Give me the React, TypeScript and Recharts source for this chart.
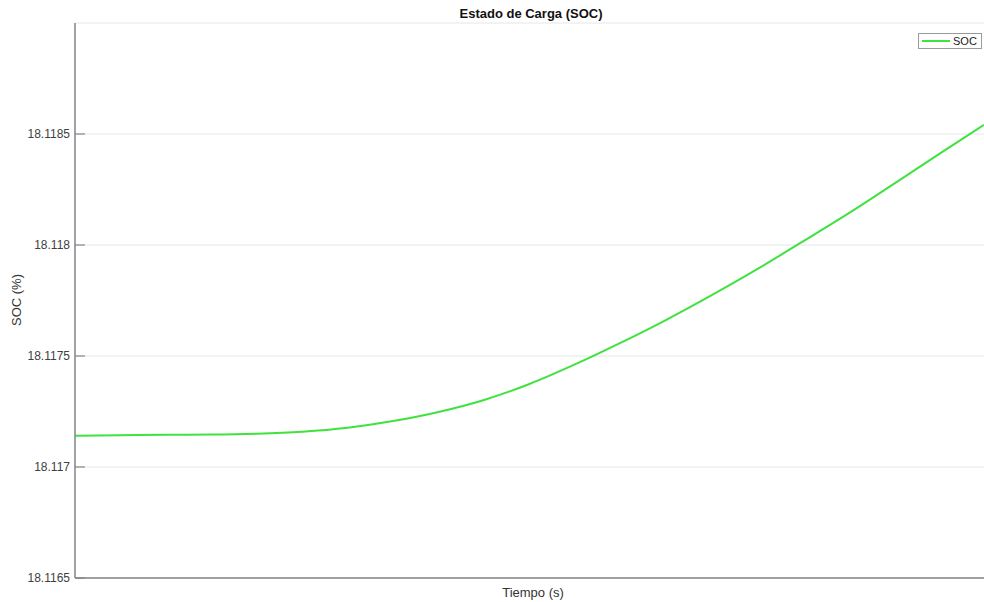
import { LineChart, Line, XAxis, YAxis, CartesianGrid } from 'recharts'

// sample index along the time axis (no time ticks are shown in the source)
const tiempo = [0, 1, 2, 3, 4, 5, 6, 7, 8, 9, 10, 11, 12, 13, 14, 15, 16, 17, 18, 19, 20]
const soc = [
  18.117141, 18.117143, 18.117145, 18.117146, 18.11715, 18.117159, 18.117177,
  18.117207, 18.117248, 18.117302, 18.117374, 18.117462, 18.117559, 18.117662,
  18.117773, 18.11789, 18.118014, 18.11814, 18.118273, 18.118408, 18.118541,
]
const yTicks = [18.1165, 18.117, 18.1175, 18.118, 18.1185]

const data = tiempo.map((t, i) => ({ t, soc: soc[i] }))

const FONT = '"Liberation Sans", Arial, sans-serif'
const GREEN = '#3fe23f'
const AXIS = '#858585'

function YTick(props: any) {
  const { x, y, payload } = props
  return (
    <g>
      <line x1={x} x2={x + 10} y1={y} y2={y} stroke={AXIS} strokeWidth={1.2} />
      <text x={x - 5} y={y} dy={4} textAnchor="end" fontSize={12} fill="#404040" fontFamily={FONT}>
        {String(payload.value)}
      </text>
    </g>
  )
}

export default function App() {
  return (
    <div style={{ position: 'absolute', left: 0, top: 0, width: 984, height: 602, background: '#fff' }}>
      <LineChart width={984} height={602} data={data} margin={{ top: 23, right: 0, bottom: 23, left: 0 }}>
        <CartesianGrid vertical={false} stroke="#e6e6e6" strokeWidth={1} />
        <XAxis
          dataKey="t"
          type="number"
          domain={[0, 20]}
          tick={false}
          tickLine={false}
          height={1}
          axisLine={{ stroke: AXIS, strokeWidth: 1.5 }}
        />
        <YAxis
          type="number"
          domain={[18.1165, 18.119]}
          ticks={yTicks}
          width={75}
          tickSize={0}
          tickMargin={0}
          tickLine={false}
          tick={<YTick />}
          axisLine={{ stroke: AXIS, strokeWidth: 1.5 }}
          allowDataOverflow
        />
        <Line
          dataKey="soc"
          type="monotone"
          stroke={GREEN}
          strokeWidth={2}
          dot={false}
          isAnimationActive={false}
        />
      </LineChart>
      <div
        style={{
          position: 'absolute',
          left: 918,
          top: 33,
          width: 64,
          height: 16,
          border: '1px solid #9a9a9a',
          background: '#fff',
          display: 'flex',
          alignItems: 'center',
          fontFamily: FONT,
          fontSize: 11,
          color: '#222',
          boxSizing: 'border-box',
        }}
      >
        <div style={{ width: 28, height: 2, background: GREEN, marginLeft: 3, marginRight: 3 }} />
        <span>SOC</span>
      </div>
      <div
        style={{
          position: 'absolute',
          top: 6,
          left: 0,
          width: 1062,
          textAlign: 'center',
          fontFamily: FONT,
          fontWeight: 'bold',
          fontSize: 13,
          color: '#111',
        }}
      >
        Estado de Carga (SOC)
      </div>
      <div
        style={{
          position: 'absolute',
          top: 585,
          left: 0,
          width: 1066,
          textAlign: 'center',
          fontFamily: FONT,
          fontSize: 13,
          color: '#333',
        }}
      >
        Tiempo (s)
      </div>
      <div
        style={{
          position: 'absolute',
          left: 16,
          top: 300,
          transform: 'translate(-50%, -50%) rotate(-90deg)',
          fontFamily: FONT,
          fontSize: 13,
          color: '#333',
          whiteSpace: 'nowrap',
        }}
      >
        SOC (%)
      </div>
    </div>
  )
}
